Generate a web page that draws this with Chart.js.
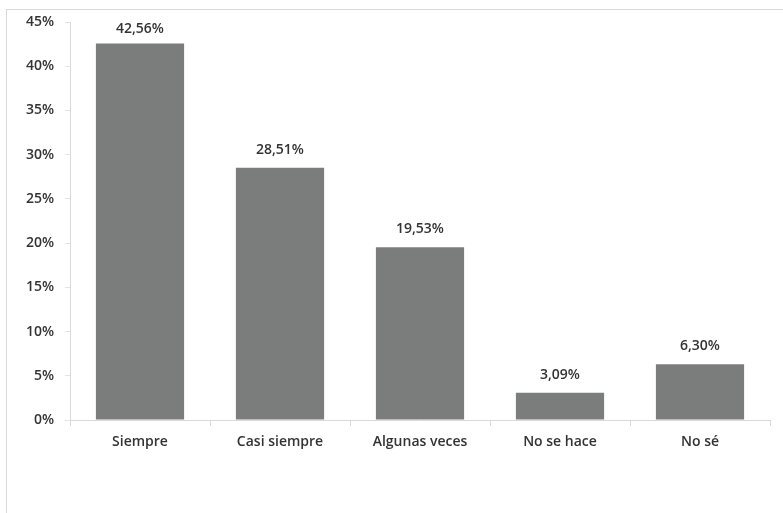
<!DOCTYPE html>
<html>
<head>
<meta charset="utf-8">
<script src="https://cdn.jsdelivr.net/npm/chart.js@4"></script>
<style>
  html, body { margin: 0; padding: 0; background: #fff; overflow: hidden; }
  #wrap { position: relative; width: 783px; height: 513px; }
  #frame { position: absolute; left: 6px; top: 9px; width: 800px; height: 520px; border: 1px solid #d9d9d9; }
  #myChart { position: absolute; left: 0; top: 0; }
</style>
</head>
<body>
<div id="wrap">
  <div id="frame"></div>
  <canvas id="myChart" width="783" height="513"></canvas>
</div>
<script>
var categories = ["Siempre", "Casi siempre", "Algunas veces", "No se hace", "No sé"];
var values = [42.56, 28.51, 19.53, 3.09, 6.3];
var yTicks = [0, 5, 10, 15, 20, 25, 30, 35, 40, 45];

var textColor = "#333333";
var font = { family: "Open Sans", size: 14, weight: "600" };

// draws the value above each bar, like the original labels
var barLabels = {
  id: "barLabels",
  afterDatasetsDraw: function (chart) {
    var ctx = chart.ctx;
    var meta = chart.getDatasetMeta(0);
    ctx.save();
    ctx.font = font.weight + " " + font.size + "px " + font.family;
    ctx.fillStyle = textColor;
    ctx.textAlign = "center";
    ctx.textBaseline = "middle";
    meta.data.forEach(function (bar, i) {
      var txt = values[i].toFixed(2).replace(".", ",") + "%";
      ctx.fillText(txt, bar.x, Math.max(bar.y - 18, 29));
    });
    ctx.restore();
  },
};

var ctx = document.getElementById("myChart").getContext("2d");
var chart = new Chart(ctx, {
  type: "bar",
  data: {
    labels: categories,
    datasets: [
      {
        data: values,
        backgroundColor: "#7b7d7c",
        categoryPercentage: 1,
        barPercentage: 0.63,
      },
    ],
  },
  options: {
    responsive: false,
    animation: false,
    layout: { padding: { top: 22, right: 13, left: 0, bottom: 0 } },
    plugins: { legend: { display: false }, tooltip: { enabled: false } },
    scales: {
      x: {
        grid: { display: true, drawOnChartArea: false, drawTicks: true, tickLength: 6, color: "#d9d9d9", offset: true },
        border: { display: true, color: "#d9d9d9" },
        ticks: { color: textColor, font: font, padding: 8 },
        afterFit: function (scale) { scale.height = 93; },
      },
      y: {
        min: 0,
        max: 45,
        afterBuildTicks: function (scale) {
          scale.ticks = yTicks.map(function (v) { return { value: v }; });
        },
        grid: { display: true, drawOnChartArea: false, drawTicks: true, tickLength: 5, color: "#e3e3e3" },
        border: { display: true, color: "#d9d9d9" },
        ticks: {
          color: textColor,
          font: font,
          padding: 11,
          callback: function (v) { return v + "%"; },
        },
        afterFit: function (scale) { scale.width = 70; },
      },
    },
  },
  plugins: [barLabels],
});
</script>
</body>
</html>
